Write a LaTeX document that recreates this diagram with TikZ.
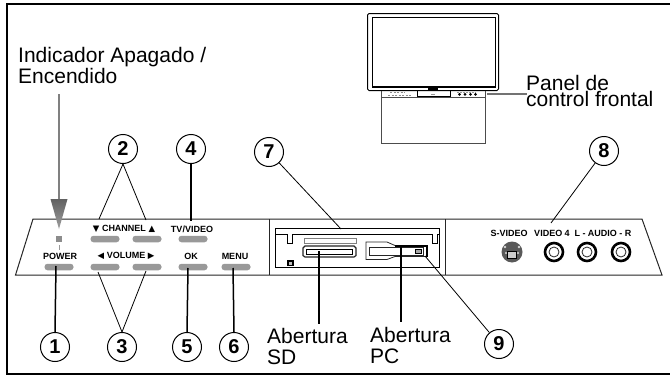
\documentclass[tikz,border=0pt]{standalone}
\usepackage{fontspec}
\setmainfont{Liberation Sans}
\newfontfamily\symfont{DejaVu Sans}
\newcommand{\dn}{{\symfont\fontsize{8.5}{8.5}\selectfont ▼}}
\newcommand{\up}{{\symfont\fontsize{8.5}{8.5}\selectfont ▲}}
\newcommand{\lf}{{\symfont\fontsize{8.5}{8.5}\selectfont ◀}}
\newcommand{\rt}{{\symfont\fontsize{8.5}{8.5}\selectfont ▶}}
\definecolor{btn}{HTML}{999999}
\tikzset{
  num/.style={circle,draw=black,line width=1pt,fill=white,minimum size=29pt,inner sep=0pt,font=\fontsize{20}{20}\selectfont\bfseries},
  lbl/.style={inner sep=0pt,font=\fontsize{9}{9}\selectfont\bfseries,anchor=center},
  big/.style={inner sep=0pt,font=\fontsize{21}{21}\selectfont,align=left,anchor=north west},
  btnbox/.style={rounded corners=3pt,fill=btn,draw=none,minimum width=29pt,minimum height=6.5pt,inner sep=0pt},
  thin leader/.style={draw=black,line width=0.8pt},
  thick leader/.style={draw=black,line width=1.5pt},
  pline/.style={draw=black!85,line width=1pt},
  jack/.style={circle,draw=black,line width=2.6pt,minimum size=18pt,inner sep=0pt,fill=white},
  jackin/.style={circle,draw=black!85,line width=0.8pt,minimum size=10pt,inner sep=0pt,fill=white},
}
\begin{document}
\begin{tikzpicture}[x=1pt,y=-1pt]
\useasboundingbox (0,0) rectangle (670,375);
\fill[white] (0,0) rectangle (670,375);
% frame
\draw[black,line width=2pt] (670,4) -- (6.8,4) -- (6.8,374) -- (670,374);
% TV
\draw[black,line width=1pt,rounded corners=1.5pt] (367.5,13.5) rectangle (498.5,90.5);
\draw[black,line width=1.8pt] (372.5,17.5) rectangle (495.5,87);
\fill[black] (428,87) rectangle (438,90);
\draw[black!70,line width=0.8pt] (381,91) -- (381,143) -- (485,143) -- (485,91);
\draw[black!70,line width=0.8pt] (381,97.3) -- (485,97.3);
\draw[black,line width=1pt] (417.5,91) -- (417.5,96.5) -- (450,96.5) -- (450,91);
\draw[black!45,line width=0.5pt,dash pattern=on 2pt off 1.5pt] (390,92.5) -- (405,92.5);
\draw[black!45,line width=0.5pt,dash pattern=on 2pt off 1.5pt] (388,95) -- (412,95);
\fill[black!40] (431,94) rectangle (435,95);
\foreach \px in {459.5,465,470.5,475.5}{\fill[black] (\px,94.4) circle (1.5);}
\draw[black!40,line width=0.5pt,dash pattern=on 2pt off 1pt] (457,92) -- (476,92);
% panel
\draw[pline] (33,219) -- (642,219) -- (662,275) -- (15.5,275) -- cycle;
\draw[pline] (269,219) -- (269,275);
\draw[pline] (445,219) -- (445,275);
% card reader
\draw[black,line width=0.9pt] (275.3,228) rectangle (439.5,267.5);
\draw[black,line width=0.9pt] (275.3,234.3) -- (287,234.3) -- (287,243.5) -- (292,243.5) -- (292,234.3) -- (432,234.3) -- (432,243.5) -- (437,243.5) -- (437,234.3) -- (439.5,234.3);
\draw[black,line width=1.2pt,fill=black!25] (288,261) rectangle (293,265.5);
\draw[black!50,line width=0.7pt] (304,238.2) rectangle (356,243);
\draw[black!85,line width=1.2pt] (305,246) -- (354,246) -- (356,248) -- (356,255.5) -- (354,257) -- (305,257) -- (303,255.5) -- (303,248) -- cycle;
\draw[black,line width=1pt] (306.5,249) rectangle (352.5,254.5);
\draw[black!85,line width=0.8pt] (366,242) -- (387,242) -- (395,245.5) -- (427,245.5) -- (427,256.5) -- (395,256.5) -- (387,259.5) -- (366,259.5) -- cycle;
\draw[black!85,line width=0.8pt] (369,247.5) -- (423.5,247.5) -- (423.5,255) -- (369,255) -- cycle;
\draw[black,line width=1.2pt] (395,246) -- (427,246) -- (427,256.5);
\draw[black,line width=0.6pt,fill=black!35] (415,249) rectangle (421,253);
% buttons
\foreach \nm/\px/\py in {bch/105/239,bcu/147/239,btv/193/239,bpw/59/267,bvd/105/267,bvu/147/267,bok/193/267,bmn/236/267}{
  \node[btnbox] (\nm) at (\px,\py) {};
}
% panel labels
\node[lbl] (lch) at (124,229) {\dn\ CHANNEL \up};
\node[lbl] (ltv) at (192,229) {TV/VIDEO};
\node[lbl] (lpw) at (60,256) {POWER};
\node[lbl] (lvl) at (126,256) {\lf\ VOLUME \rt};
\node[lbl] (lok) at (191,256) {OK};
\node[lbl] (lmn) at (235,256) {MENU};
\node[lbl] (lsv) at (509,233) {S-VIDEO};
\node[lbl] (lv4) at (552,233) {VIDEO 4};
\node[lbl] (lau) at (603,233) {L - AUDIO - R};
% LED
\node[fill=black!45,minimum size=6pt,inner sep=0pt] (led) at (59,239) {};
\draw[black!40,line width=0.6pt] (59,245) -- (59,250);
% jacks
\node[jack] (j1) at (554,252) {};
\node[jack] (j2) at (587,252) {};
\node[jack] (j3) at (621,252) {};
\node[jackin] at (j1) {};
\node[jackin] at (j2) {};
\node[jackin] at (j3) {};
% s-video
\node[circle,fill=black!65,minimum size=21pt,inner sep=0pt] (sv) at (512,252) {};
\fill[black!20] (507.5,251) rectangle (516.5,258);
\draw[black,line width=0.7pt] (507.5,251) rectangle (516.5,258);
\fill[black!15] (505,247) circle (1.4) (519,247) circle (1.4) (506,253) circle (1.2) (518,253) circle (1.2);
% circles
\node[num] (n1) at (55,347) {1};
\node[num] (n2) at (123,149) {2};
\node[num] (n3) at (122,347) {3};
\node[num] (n4) at (191,149) {4};
\node[num] (n5) at (187,347) {5};
\node[num] (n6) at (234,347) {6};
\node[num] (n7) at (269,152) {7};
\node[num] (n8) at (604,151) {8};
\node[num] (n9) at (499,344) {9};
% connector ends
\coordinate (e2a) at (99,219);
\coordinate (e2b) at (146,220);
\coordinate (e4) at (191,221);
\coordinate (e1) at (56,266);
\coordinate (e3a) at (98,272);
\coordinate (e3b) at (146,271);
\coordinate (e5) at (188,268);
\coordinate (e6) at (233,268);
\coordinate (e7) at (341,229);
\coordinate (e8) at (551,223);
\coordinate (e9) at (425,256);
\coordinate (eSD) at (319,251);
\coordinate (ePC) at (401,247);
\coordinate (tSD) at (319,324);
\coordinate (tPC) at (401,322);
\draw[thin leader] (n2.south) -- (e2a);
\draw[thin leader] (n2.south) -- (e2b);
\draw[thick leader] (n4.south) -- (e4);
\draw[thick leader] (n1.north) -- (e1);
\draw[thin leader] (n3.north) -- (e3a);
\draw[thin leader] (n3.north) -- (e3b);
\draw[thick leader] (n5.north) -- (e5);
\draw[thick leader] (n6.north) -- (e6);
\draw[thin leader] (n7) -- (e7);
\draw[thin leader] (n8) -- (e8);
\draw[thin leader] (n9) -- (e9);
\draw[thick leader] (eSD) -- (tSD);
\draw[thick leader] (ePC) -- (tPC);
% big labels
\node[big] (ind) at (18,47) {Indicador Apagado /\\Encendido};
\node[big] (sd) at (267,328) {Abertura\\SD};
\node[big] (pc) at (370,327) {Abertura\\PC};
\node[big,font=\fontsize{21}{16.5}\selectfont] (pa) at (526,75) {Panel de\\control frontal};
% panel leader
\coordinate (ep) at (487,94);
\coordinate (eq) at (527,94);
\draw[draw=black!55,line width=1.4pt] (ep) -- (eq);
% indicator arrow
\coordinate (at) at (59,94);
\coordinate (ab) at (59,200);
\draw[draw=black!50,line width=2pt] (at) -- (ab);
\shade[top color=black!62,bottom color=black!38] (50.5,199) -- (67.5,199) -- (59,229) -- cycle;
\end{tikzpicture}
\end{document}
